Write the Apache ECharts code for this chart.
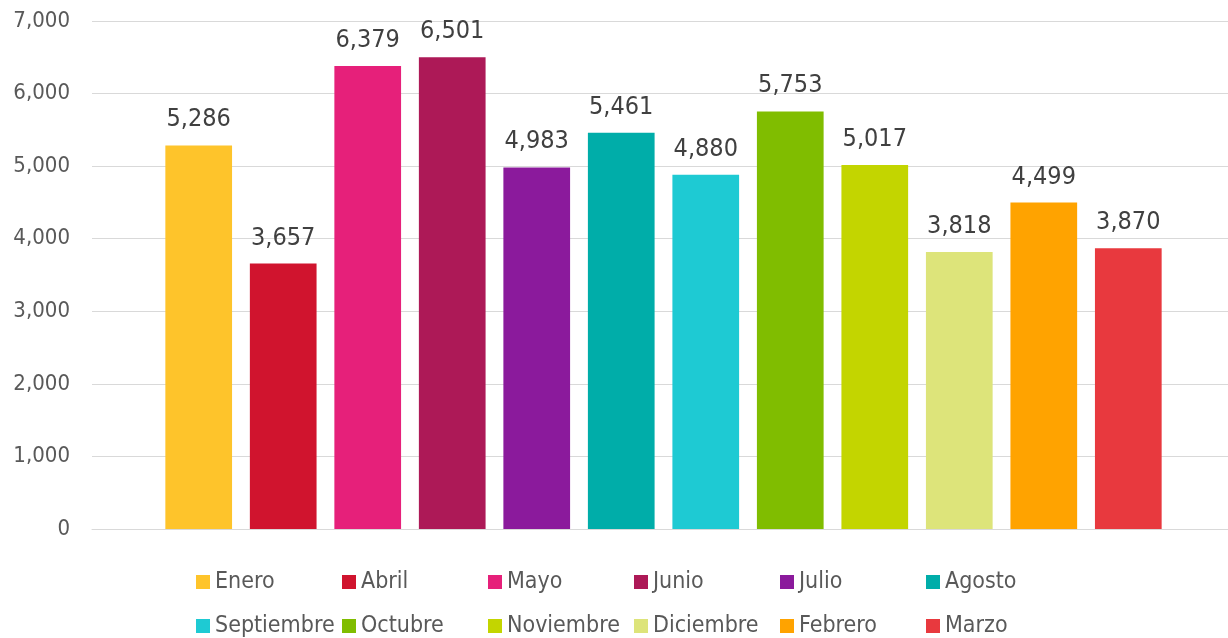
<!DOCTYPE html>
<html>
<head>
<meta charset="utf-8">
<script src="https://cdn.jsdelivr.net/npm/echarts@6/dist/echarts.min.js"></script>
<style>
html,body{margin:0;padding:0;background:#fff;}
#chart{width:1228px;height:638px;}
</style>
</head>
<body>
<div id="chart"></div>
<script>
const months = ['Enero','Abril','Mayo','Junio','Julio','Agosto','Septiembre','Octubre','Noviembre','Diciembre','Febrero','Marzo'];
const values = [5286,3657,6379,6501,4983,5461,4880,5753,5017,3818,4499,3870];
const colors = ['#FEC42B','#D0142E','#E6207A','#AD1957','#8B1A9C','#00ADA9','#1ECAD3','#80BD00','#C3D500','#DDE47A','#FFA300','#E8393E'];
const yTicks = [0,1000,2000,3000,4000,5000,6000,7000];

const FONT = "'DejaVu Sans Condensed','DejaVu Sans',sans-serif";

const series = months.map((m,i)=>({
  name: m,
  type: 'bar',
  xAxisIndex: 1, yAxisIndex: 1,
  data: [values[i]],
  barWidth: 66.7,
  barGap: '26.7%',
  itemStyle: {color: colors[i]},
  label: {
    show: true, position: 'top', distance: 13,
    fontFamily: FONT, fontSize: 25, color: '#404040',
    formatter: p => p.value.toLocaleString('en-US')
  }
}));

const colX = [196, 342, 488, 634, 780, 926];
const legends = colX.map((x,c)=>({
  orient: 'vertical',
  left: x, top: 570,
  padding: 0,
  itemWidth: 14, itemHeight: 14,
  itemGap: 20,
  icon: 'rect',
  data: [months[c], months[c+6]],
  textStyle: {fontFamily: FONT, fontSize: 23, color: '#595959', lineHeight: 24}
}));

const yMin = yTicks[0], yMax = yTicks[yTicks.length-1];

const chart = echarts.init(document.getElementById('chart'));
chart.setOption({
  animation: false,
  grid: [
    {left: 92, right: 0, top: 21, bottom: 109},
    {left: 99, right: 0, top: 21, bottom: 109}
  ],
  legend: legends,
  xAxis: [
    {type: 'category', data: [''], gridIndex: 0,
     axisLine: {show: true, lineStyle: {color: '#d9d9d9', width: 1}},
     axisTick: {show: false}, axisLabel: {show: false}},
    {type: 'category', data: [''], gridIndex: 1,
     axisLine: {show: false}, axisTick: {show: false}, axisLabel: {show: false}}
  ],
  yAxis: [
    {type: 'value', gridIndex: 0, min: yMin, max: yMax, interval: 1000,
     axisLine: {show: false}, axisTick: {show: false},
     splitLine: {lineStyle: {color: '#d9d9d9', width: 1}},
     axisLabel: {fontFamily: FONT, fontSize: 22, color: '#595959', margin: 22,
       formatter: v => v.toLocaleString('en-US')}},
    {type: 'value', gridIndex: 1, min: yMin, max: yMax, interval: 1000,
     axisLine: {show: false}, axisTick: {show: false},
     splitLine: {show: false}, axisLabel: {show: false}}
  ],
  series: series
});
</script>
</body>
</html>
